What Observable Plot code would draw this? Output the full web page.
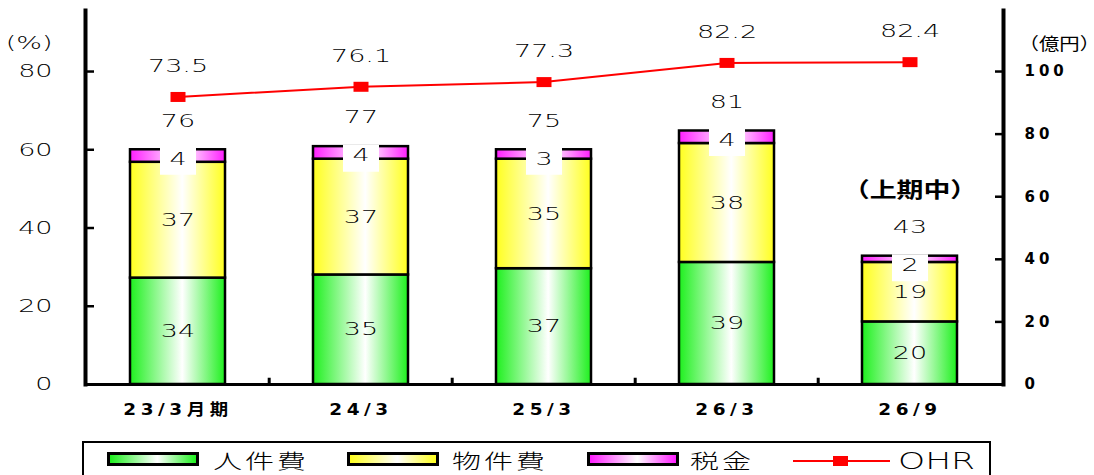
<!DOCTYPE html>
<html><head><meta charset="utf-8">
<script src="https://cdn.jsdelivr.net/npm/d3@7"></script>
<script src="https://cdn.jsdelivr.net/npm/@observablehq/plot@0.6"></script>
<style>
body{margin:0;background:#fff;}
#chart{position:relative;width:1094px;height:475px;overflow:hidden;}
#legend{position:absolute;left:82px;top:441px;width:909px;height:60px;border:2px solid #000;box-sizing:border-box;}
.sw{position:absolute;width:92px;height:14px;border:3px solid #000;box-sizing:border-box;}
.lt{position:absolute;font-family:"Noto Sans CJK JP";font-size:20px;line-height:20px;transform:scaleX(1.45);transform-origin:left center;white-space:nowrap;font-weight:300;}
</style></head><body><div id="chart"></div>
<script>
const categories = ["23/3月期","24/3","25/3","26/3","26/9"];
const personnel = [34,35,37,39,20];
const property  = [37,37,35,38,19];
const tax       = [4,4,3,4,2];
const totals    = [76,77,75,81,43];
const ohr       = [73.5,76.1,77.3,82.2,82.4];
const leftTicks  = [0,20,40,60,80];
const rightTicks = [0,20,40,60,80,100];
const seriesNames = ["人件費","物件費","税金","OHR"];
const seriesColors = ["#1ef01e","#ffff1e","#ff1eff"];
const ohrToRight = 100/80;

const keys = ["p","m","t"];
const rows = [];
categories.forEach((c,i)=>{
  let base = 0;
  [personnel[i], property[i], tax[i]].forEach((v,j)=>{
    rows.push({cat:c, key:keys[j], value:v, y1:base, y2:base+v});
    base += v;
  });
});
const tops = categories.map((c,i)=>({cat:c, top: personnel[i]+property[i]+tax[i], total: totals[i], tax: tax[i]}));
const ohrData = categories.map((c,i)=>({cat:c, v: ohr[i]*ohrToRight, label: ohr[i].toFixed(1)}));

const boxSymbol = {draw(ctx){ ctx.rect(-18,-2,36,27); }};
const markerSymbol = {draw(ctx){ ctx.rect(-7.5,-5,15,10); }};
const step = (1094-85-91)/categories.length;
const numW = 200;

const plot = Plot.plot({
  width:1094, height:440, marginLeft:85, marginRight:91, marginTop:10, marginBottom:56,
  style:{fontFamily:"'DejaVu Sans','Noto Sans CJK JP'", background:"transparent", color:"black", overflow:"visible"},
  x:{type:"band", domain:categories, paddingInner:0.48, paddingOuter:0.24, axis:null},
  y:{domain:[0,119.5], axis:null},
  marks:[
    ...keys.map(k=>Plot.barY(rows.filter(r=>r.key===k), {x:"cat", y1:"y1", y2:"y2", fill:`url(#grad-${k})`, stroke:"black", strokeWidth:2.5})),
    Plot.text(rows.filter(r=>r.key!=="t"), {x:"cat", y:r=>(r.y1+r.y2)/2, text:r=>String(r.value), fontSize:18, fontWeight:numW, className:"num"}),
    Plot.dot(tops, {x:"cat", y:"top", symbol:boxSymbol, fill:"white", stroke:null}),
    Plot.text(tops, {x:"cat", y:"top", dy:9, text:d=>String(d.tax), fontSize:18, fontWeight:numW, className:"num"}),
    Plot.text(tops, {x:"cat", y:"top", dy:-29, text:d=>String(d.total), fontSize:18, fontWeight:numW, className:"num"}),
    Plot.line(ohrData, {x:"cat", y:"v", stroke:"#ff0000", strokeWidth:2}),
    Plot.dot(ohrData, {x:"cat", y:"v", symbol:markerSymbol, fill:"#ff0000", stroke:null}),
    Plot.text(ohrData, {x:"cat", y:"v", dy:-31, text:"label", fontSize:18, fontWeight:numW, className:"num"}),
    Plot.text(tops.slice(-1), {x:"cat", y:"top", dy:-66, text:()=>"（上期中）", fontSize:21, fontWeight:"bold", fontFamily:"Noto Sans CJK JP", className:"note"}),
    Plot.ruleY([0], {strokeWidth:3}),
    Plot.ruleX(categories.slice(1), {x:d=>d, dx:-step/2, y1:0, y2:2, strokeWidth:3}),
    Plot.frame({anchor:"left", strokeWidth:4}),
    Plot.frame({anchor:"right", strokeWidth:4}),
    Plot.axisY({anchor:"left", label:null, ticks:leftTicks.map(t=>t*ohrToRight), tickFormat:d=>String(Math.round(d/ohrToRight)), tickSize:-9, tickPadding:42, strokeWidth:2.5, fontSize:18, fontWeight:numW, className:"lefty"}),
    Plot.axisY({anchor:"right", label:null, ticks:rightTicks, tickSize:-9, tickPadding:30, strokeWidth:2.5, fontSize:15, fontWeight:"bold", className:"righty"}),
    Plot.axisX({label:null, tickSize:0, tickPadding:19, fontSize:16, fontWeight:"bold", className:"catx"}),
    Plot.text(["(%)"], {frameAnchor:"top-left", text:d=>d, dx:-33, dy:26, textAnchor:"end", fontSize:18, fontWeight:numW, className:"num"}),
    Plot.text(["（億円）"], {frameAnchor:"top-right", text:d=>d, dx:15, dy:27, textAnchor:"start", fontSize:17, fontFamily:"Noto Sans CJK JP", className:"unitr"})
  ]
});

// gradient defs
const svg = d3.select(plot);
const defs = svg.insert("defs", ":first-child");
keys.forEach((k,i)=>{
  const g = defs.append("linearGradient").attr("id", `grad-${k}`).attr("x1","0").attr("x2","1").attr("y1","0").attr("y2","0");
  g.append("stop").attr("offset","0").attr("stop-color", seriesColors[i]);
  g.append("stop").attr("offset","0.55").attr("stop-color", "#ffffff");
  g.append("stop").attr("offset","1").attr("stop-color", seriesColors[i]);
});
const chart = document.getElementById("chart");
chart.appendChild(plot);

function stretch(sel, f){
  sel.each(function(){
    const L = this.getComputedTextLength();
    this.setAttribute("textLength", L*f);
    this.setAttribute("lengthAdjust","spacingAndGlyphs");
  });
}
stretch(svg.selectAll("g.num text, g.lefty text"), 1.5);
svg.selectAll("g.righty text").attr("letter-spacing", "4px");
svg.selectAll("g.catx text").attr("letter-spacing", "4px");
stretch(svg.selectAll("g.catx text"), 1.15);
stretch(svg.selectAll("g.note text"), 1.28);
stretch(svg.selectAll("g.unitr text"), 1.2);

// legend
const legend = d3.select(chart).append("div").attr("id","legend");
const lx = [[107,213],[347,452],[587,690]];
seriesNames.slice(0,3).forEach((n,i)=>{
  d3.select(chart).append("div").attr("class","sw")
    .style("left", lx[i][0]+"px").style("top","452px")
    .style("background", `linear-gradient(to right, ${seriesColors[i]}, #fff 55%, ${seriesColors[i]})`);
  d3.select(chart).append("div").attr("class","lt").style("left", lx[i][1]+"px").style("top","451px").style("letter-spacing","2px").text(n);
});
const lsvg = d3.select(chart).append("svg").attr("width",100).attr("height",20)
  .style("position","absolute").style("left","792px").style("top","451px");
lsvg.append("line").attr("x1",1).attr("x2",98).attr("y1",10).attr("y2",10).attr("stroke","#ff0000").attr("stroke-width",2);
lsvg.append("rect").attr("x",41).attr("y",5).attr("width",15).attr("height",10).attr("fill","#ff0000");
d3.select(chart).append("div").attr("class","lt").style("left","898px").style("top","450px")
  .style("font-family","'DejaVu Sans'").style("font-weight","200").style("font-size","23px").style("line-height","23px").style("transform","scaleX(1.5)").text(seriesNames[3]);
</script>
</body></html>
